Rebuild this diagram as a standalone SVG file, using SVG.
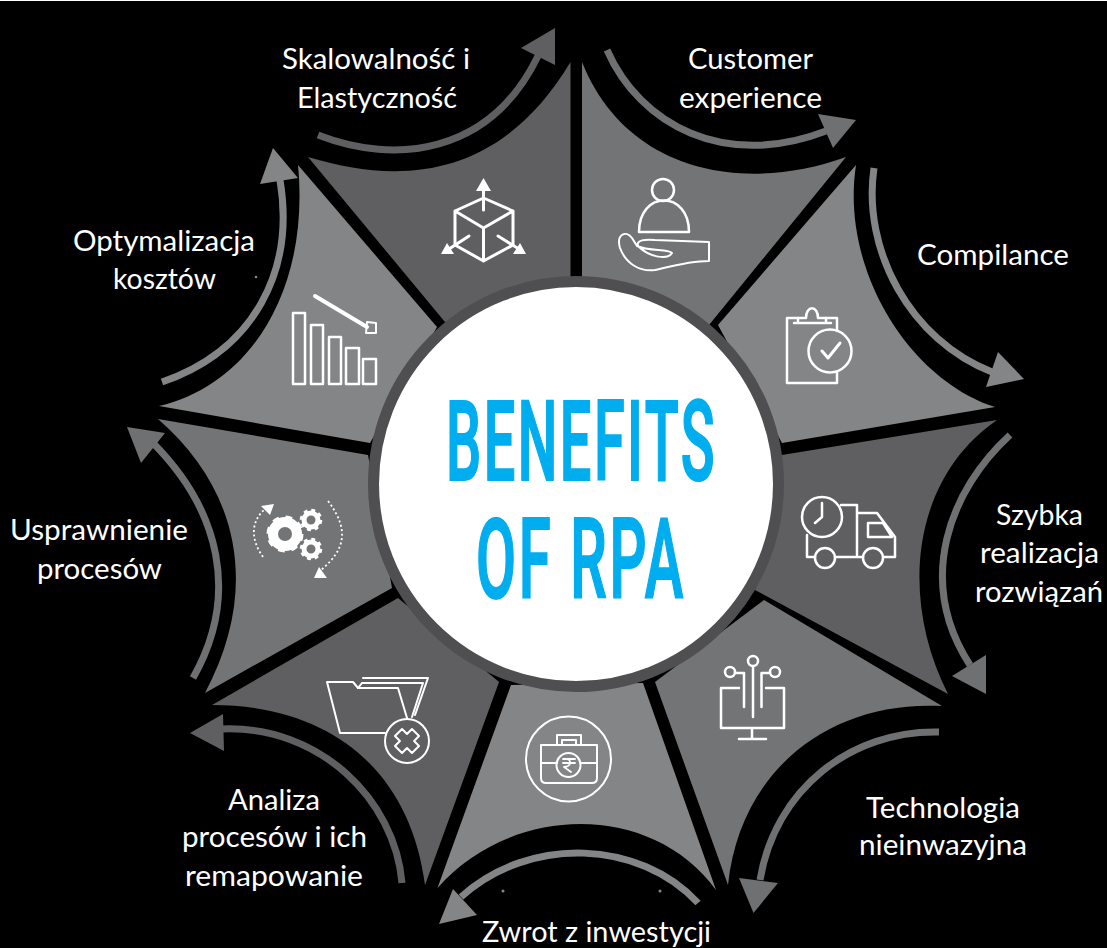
<svg xmlns="http://www.w3.org/2000/svg" width="1107" height="948" viewBox="0 0 1107 948">
<style>
.d{fill:#5f5f61}.m{fill:#737476}.l{fill:#848586}
.ad{stroke:#5f5f61}.am{stroke:#6f7072}.al{stroke:#848586}
.shaft{fill:none;stroke-width:7}
.hd{fill:#5f5f61}.hm{fill:#6f7072}.hl{fill:#848586}
.ic{fill:none;stroke:#fff;stroke-width:2.5;stroke-linejoin:round;stroke-linecap:round}
.t{font-family:Lato,"Liberation Sans",sans-serif;font-size:28px;fill:#fff;text-anchor:middle}
.b{font-family:Roboto,"Liberation Sans",sans-serif;font-weight:500;font-size:111px;letter-spacing:5px;fill:#00aeef;stroke:#00aeef;stroke-width:2}
</style>
<rect width="1107" height="948" fill="#000"/>
<rect width="1107" height="1" fill="#fff"/>

<g id="connectors">
<path class="shaft ad" d="M318 135C395 165 490 155 538 56"/><polygon class="hd" points="555,28 521,48 555,65"/>
<path class="shaft am" d="M607 50C640 125 725 170 826 131"/><polygon class="hm" points="856,120 818,114 833,148"/>
<path class="shaft al" d="M874 168C862 250 910 340 992 372"/><polygon class="hl" points="1024,379 998,352 986,387"/>
<path class="shaft am" d="M1010 435C950 490 915 580 970 665"/><polygon class="hm" points="986,694 952,676 986,655"/>
<path class="shaft am" d="M939 732C850 730 775 790 760 880"/><polygon class="hm" points="753.5,913 739,878 778,883"/>
<path class="shaft al" d="M698 903C640 840 530 835 461 897"/><polygon class="hl" points="439,924 453,889 477,915"/>
<path class="shaft ad" d="M402 883C395 800 320 725 222 729"/><polygon class="hd" points="190,733 223,714 224,751"/>
<path class="shaft am" d="M193 678C240 595 220 510 152 442"/><polygon class="hm" points="127,427 165,433 141,463"/>
<path class="shaft al" d="M162 382C255 350 295 270 280 180"/><polygon class="hl" points="273,148 260,184 298,178"/>
</g>

<g id="seg-skalowalnosc"><path class="d" d="M308 157C400 185 500 180 570.500 62L570.500 300L445 322Z"/>
<g class="ic" style="stroke-width:3"><path d="M483.500 198L455 211V245L483.500 261L513 245V211L483.500 198M455 211L483.500 228L513 211M483.500 228V261"/>
<path d="M483.500 210V186M469 236L449 249M498 236L519 249"/></g>
<g fill="#fff"><polygon points="483.500,178 476,191 491,191"/><polygon points="441,254 454,254 447,243"/><polygon points="526,254 513,254 520,243"/></g></g>

<g id="seg-customer"><path class="m" d="M582 62C625 170 740 195 846 157L709 325L582 300Z"/>
<g class="ic"><circle cx="663" cy="190" r="11"/><path d="M639 232C639 190 689 190 689 232Z"/>
<path d="M709 242V261C690 261 672 266 655 270C640 272 626 264 620 248C616 234 626 230 632 238L637 246C650 252 668 248 672 253C668 260 650 258 638 246C636 240 645 239 655 240Z" stroke-width="2"/></g></g>

<g id="seg-compilance"><path class="l" d="M856 165C840 270 910 380 995 407L782 443L718 325Z"/>
<g class="ic"><path d="M837 331V318H826M798 318H787V383H837V372"/><path d="M794 323H831M798 323V318H806C806 305 818 305 818 318H826V323" stroke-width="2.500"/><circle cx="830" cy="351" r="21.500"/><path d="M822 351L828 358L840 343" stroke-width="3"/></g></g>

<g id="seg-szybka"><path class="d" d="M997 420C910 480 900 600 948 694L755 590L782 455Z"/>
<g class="ic"><circle cx="822" cy="517" r="20"/><path d="M822 503V517L815 523"/><path d="M841 505H857V555M807 535V557H815M835 557H863M857 513H877L895 537V557H884"/><path d="M868 523H883L892 537H868Z"/><circle cx="825" cy="558" r="10"/><circle cx="873" cy="558" r="10"/></g></g>

<g id="seg-technologia"><path class="m" d="M942 706C830 700 740 770 728 885L655 682L764 600Z"/>
<g class="ic"><path d="M739 688H721V728H784V688H766M752 728V738M739 739H766M753 667V717"/><circle cx="753" cy="661" r="5"/><circle cx="730" cy="672" r="5"/><circle cx="775" cy="672" r="5"/><path d="M735 673H744V707M770 673H761.500V707"/></g></g>

<g id="seg-zwrot"><path class="l" d="M716 890C650 800 510 805 437.500 888L511 685L643 683Z"/>
<g class="ic"><circle cx="568.500" cy="759" r="42.500" style="stroke-width:2"/><path d="M541 745H597V778Q597 783 592 783H546Q541 783 541 778ZM557 745V735H581V745M562 745V740H576V745M541 763H557M580 763H597" style="stroke-width:2"/><circle cx="568.500" cy="765" r="12" style="stroke-width:2"/><path d="M563 759H575M563 763H575M565 759C572 758 572 767 564 767L571 772" style="stroke-width:1.800"/></g>
<circle cx="503" cy="891" r="1.500" fill="#848586"/><circle cx="660" cy="891" r="1.500" fill="#848586"/></g>

<g id="seg-analiza"><path class="d" d="M425 885C410 770 330 705 212 705L398 598L499 682Z"/>
<g class="ic"><path d="M327 682H353L358 688H398L407 718M327 682L340 733H385" style="stroke-width:2"/><path d="M363 678H428L415 715M362 683H423L412 717M358 688L362 683" style="stroke-width:2"/><circle cx="407" cy="741" r="22" style="stroke-width:2"/><path d="M402 729H412L412 736H419V746H412V753H402V746H395V736H402Z" transform="rotate(45 407 741)" style="stroke-width:2"/></g></g>

<g id="seg-usprawnienie"><path class="m" d="M158 419C240 490 260 590 205 693L392 588L368 455Z"/>
<g id="gears"><circle cx="285" cy="534" r="12" fill="none" stroke="#fff" stroke-width="10"/><circle cx="285" cy="534" r="16" fill="none" stroke="#fff" stroke-width="5" stroke-dasharray="6.300 6.270"/>
<circle cx="311" cy="520" r="7" fill="none" stroke="#fff" stroke-width="5"/><circle cx="311" cy="520" r="9.500" fill="none" stroke="#fff" stroke-width="3.500" stroke-dasharray="3.730 3.730"/>
<circle cx="311" cy="549" r="7" fill="none" stroke="#fff" stroke-width="5"/><circle cx="311" cy="549" r="9.500" fill="none" stroke="#fff" stroke-width="3.500" stroke-dasharray="3.730 3.730"/>
<path d="M263 557C251 540 250 522 265 509M328 501C350 530 345 550 321 570" fill="none" stroke="#fff" stroke-width="1.800" stroke-dasharray="2 2.500"/>
<polygon points="274,504 261,506 270,515" fill="#fff"/><polygon points="314,578 327,578 319,567" fill="#fff"/></g></g>

<g id="seg-optymalizacja"><path class="l" d="M159 406C250 385 310 290 298 165L437 327L370 443Z"/>
<g class="ic"><rect x="293" y="313" width="12" height="71"/><rect x="311" y="325" width="12" height="59"/><rect x="329" y="337" width="12" height="47"/><rect x="346" y="348" width="13" height="36"/><rect x="363" y="359" width="13" height="25"/>
<path d="M315 296L367 327" style="stroke-width:4"/><path d="M367 322L376 323L376 333L366 333Z" style="stroke-width:2"/></g>
<circle cx="256" cy="277" r="1.300" fill="#848586"/></g>

<g id="center"><circle cx="576" cy="484" r="202.500" fill="#fff" stroke="#4f4f51" stroke-width="11"/>
<text class="b" x="446" y="480" textLength="271" lengthAdjust="spacingAndGlyphs">BENEFITS</text>
<text class="b" x="476" y="598" textLength="210" lengthAdjust="spacingAndGlyphs">OF RPA</text></g>

<g id="labels">
<text class="t" x="376" y="69" textLength="188" lengthAdjust="spacingAndGlyphs">Skalowalność i</text>
<text class="t" x="377" y="108" textLength="160" lengthAdjust="spacingAndGlyphs">Elastyczność</text>
<text class="t" x="750.500" y="69" textLength="125" lengthAdjust="spacingAndGlyphs">Customer</text>
<text class="t" x="750.500" y="108" textLength="143" lengthAdjust="spacingAndGlyphs">experience</text>
<text class="t" x="993" y="265" textLength="152" lengthAdjust="spacingAndGlyphs">Compilance</text>
<text class="t" x="1039.500" y="525" textLength="87" lengthAdjust="spacingAndGlyphs">Szybka</text>
<text class="t" x="1039.500" y="563" textLength="119" lengthAdjust="spacingAndGlyphs">realizacja</text>
<text class="t" x="1039" y="602" textLength="128" lengthAdjust="spacingAndGlyphs">rozwiązań</text>
<text class="t" x="943" y="818" textLength="154" lengthAdjust="spacingAndGlyphs">Technologia</text>
<text class="t" x="943" y="855" textLength="168" lengthAdjust="spacingAndGlyphs">nieinwazyjna</text>
<text class="t" x="596.500" y="942" textLength="229" lengthAdjust="spacingAndGlyphs">Zwrot z inwestycji</text>
<text class="t" x="274" y="810" textLength="92" lengthAdjust="spacingAndGlyphs">Analiza</text>
<text class="t" x="274.500" y="847" textLength="185" lengthAdjust="spacingAndGlyphs">procesów i ich</text>
<text class="t" x="274" y="886" textLength="178" lengthAdjust="spacingAndGlyphs">remapowanie</text>
<text class="t" x="99" y="540" textLength="178" lengthAdjust="spacingAndGlyphs">Usprawnienie</text>
<text class="t" x="99.500" y="579" textLength="125" lengthAdjust="spacingAndGlyphs">procesów</text>
<text class="t" x="164" y="251" textLength="182" lengthAdjust="spacingAndGlyphs">Optymalizacja</text>
<text class="t" x="164.500" y="289" textLength="103" lengthAdjust="spacingAndGlyphs">kosztów</text>
</g>
</svg>
